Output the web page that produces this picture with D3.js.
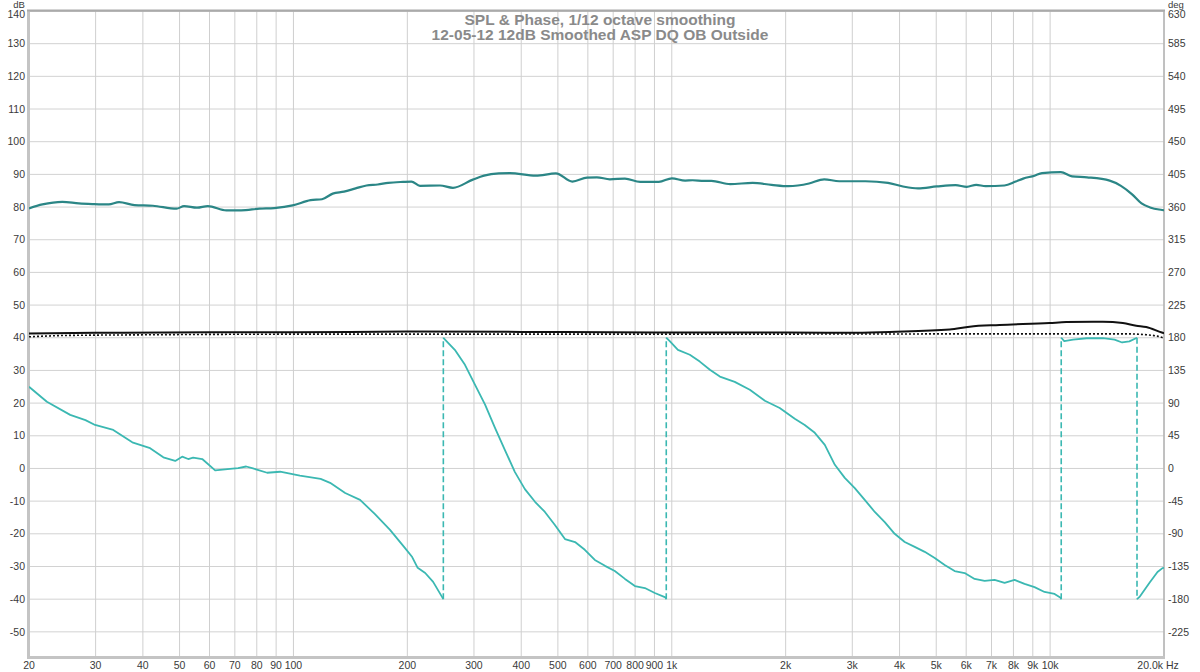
<!DOCTYPE html>
<html><head><meta charset="utf-8">
<script src="https://cdn.jsdelivr.net/npm/d3@7"></script>
<style>
html,body{margin:0;padding:0;background:#fff;}
svg{display:block;font-family:"Liberation Sans",Arial,sans-serif;}
</style></head>
<body>
<svg id="chart" width="1200" height="672"></svg>
<script>
// ---------- data ----------
const titleLines = ["SPL & Phase, 1/12 octave smoothing", "12-05-12 12dB Smoothed ASP DQ OB Outside"];
const dbTicks = [140,130,120,110,100,90,80,70,60,50,40,30,20,10,0,-10,-20,-30,-40,-50];
const degTicks = [630,585,540,495,450,405,360,315,270,225,180,135,90,45,0,-45,-90,-135,-180,-225];
const freqGrid = [20,30,40,50,60,70,80,90,100,200,300,400,500,600,700,800,900,1000,2000,3000,4000,5000,6000,7000,8000,9000,10000,20000];
const freqLabels = ["20","30","40","50","60","70","80","90","100","200","300","400","500","600","700","800","900","1k","2k","3k","4k","5k","6k","7k","8k","9k","10k","20.0k"];

// SPL (dB), [Hz, dB]
const splData = [
 [20,79.6],[21.7,80.8],[24.5,81.6],[27.1,81.1],[29.7,80.9],[32.5,80.8],[34.6,81.5],[38,80.6],[42.5,80.4],
 [49.1,79.5],[51.4,80.3],[55.6,79.8],[59.4,80.3],[66.5,79.0],[72.7,79.0],[81.4,79.5],[89,79.7],[99.5,80.5],
 [111,82.1],[119,82.4],[127,84.1],[136,84.7],[146,85.7],[156,86.6],[167,86.9],[178,87.4],[195,87.7],[205,87.8],
 [216,86.5],[244,86.6],[264,85.9],[298,88.4],[319,89.6],[349,90.3],[373,90.4],[437,89.6],[494,90.3],[546,87.8],
 [597,89.0],[634,89.1],[686,88.5],[752,88.7],[825,87.7],[924,87.7],[1001,88.8],[1085,88.1],[1135,88.2],
 [1216,88.0],[1273,88.0],[1427,87.0],[1636,87.4],[1835,86.8],[2033,86.4],[2306,87.2],[2528,88.5],[2770,87.9],
 [3250,87.9],[3728,87.4],[4084,86.3],[4474,85.7],[5016,86.3],[5624,86.7],[6024,86.2],[6378,86.8],[6754,86.4],
 [7572,86.6],[8110,87.8],[8488,88.7],[9094,89.6],[9518,90.4],[10672,90.7],[11430,89.4],[12524,89.1],
 [14370,88.1],[15390,86.5],[16472,83.9],[17444,81.1],[18472,79.8],[19780,79.1],[20000,79.0]
];

// Phase (deg, right axis), [Hz, deg]; wraps at +/-180
const phaseData = [
 [20,112.5],[22.3,91.8],[25.7,73.8],[28.2,66.6],[29.9,59.9],[33.4,53.1],[37.5,36],[41.8,27.9],[45.3,15.3],
 [48.7,10.4],[50.8,16.2],[52.7,13],[54.3,14.9],[57.4,13],[62.1,-2.7],[68,-0.5],[71.4,0.5],[75,2.7],[78.2,0],
 [85.2,-5.9],[92.2,-4.5],[104,-9.9],[118,-14.4],[125,-19.8],[137,-33.8],[150,-43.2],[164,-62.6],[180,-84.6],
 [197,-109.4],[206,-122],[213,-136.8],[223,-144],[234,-156.2],[247,-176.9],[249,-180],
 [249,180],[267,163.4],[284,142.7],[302,115.2],[321,87.8],[341,55.8],[362,25.7],[385,-5],[409,-28.4],
 [435,-45.9],[462,-59.9],[491,-77.9],[522,-97.2],[555,-101.3],[589,-112],[626,-126],[666,-134.1],[707,-141.3],
 [752,-152.1],[799,-162],[849,-164.7],[902,-171.5],[962,-177.5],[967,-180],
 [967,180],[985,176],[1038,163.4],[1116,156.6],[1186,147.2],[1261,135.9],[1340,126.5],[1467,119.3],[1608,108.5],
 [1762,93.2],[1929,83.3],[2114,68.4],[2246,59.9],[2388,49.1],[2538,32.4],[2698,5],[2866,-13],[3046,-27],
 [3236,-43.2],[3440,-59.9],[3655,-73.8],[3883,-90],[4128,-101.3],[4387,-108],[4662,-114.8],[4955,-123.3],
 [5264,-132.8],[5593,-141.3],[5945,-144],[6317,-152.1],[6713,-154.8],[7133,-153.5],[7581,-157.5],[8055,-153.5],
 [8560,-158.9],[9095,-163.4],[9667,-170.1],[10275,-172.8],[10660,-178.2],[10700,-180],
 [10700,180],[10900,175.5],[11500,177.5],[12500,179.3],[13800,179.5],[14800,177.5],[15500,173.5],[16200,175],[16970,180],
 [16970,-180],[17232,-176.9],[18312,-157.5],[19224,-142.7],[19817,-137.3],[20000,-137]
];

// Black solid and dotted traces (dB)
const blackData = [
 [20,41.3],[30,41.5],[60,41.7],[100,41.7],[200,41.9],[400,41.8],[1000,41.6],[2000,41.6],[2955,41.5],[3768,41.8],
 [5428,42.5],[6128,43.4],[7354,43.9],[9967,44.5],[11032,44.8],[13780,44.9],[15568,44.5],[16892,43.7],[17948,43.3],[19740,41.6],[20000,41.4]
];
const dottedData = [
 [20,40.3],[25,40.7],[40,40.9],[100,41.1],[1000,41.1],[10000,41.2],[16000,41.2],[18000,40.9],[19200,40.5],[20000,39.9]
];

// ---------- layout ----------
const svg = d3.select("#chart");
const L = 29, R = 1164, T = 11, B = 657;
const x = d3.scaleLog().domain([20, 20000]).range([L, R]);
const y = d3.scaleLinear().domain([-57.7, 140]).range([B, T]);
const yPh = d3.scaleLinear().domain([-57.7 * 4.5, 630]).range([B, T]);

// grid
const g = svg.append("g");
g.selectAll("line.hg").data(dbTicks).enter().append("line")
  .attr("x1", L).attr("x2", R).attr("y1", d => y(d)).attr("y2", d => y(d))
  .attr("stroke", "#d2d2d2").attr("stroke-width", 1);
g.selectAll("line.vg").data(freqGrid).enter().append("line")
  .attr("x1", d => x(d)).attr("x2", d => x(d)).attr("y1", T).attr("y2", B)
  .attr("stroke", "#cfcfcf").attr("stroke-width", 1);

// border
svg.append("rect").attr("x", L).attr("y", T).attr("width", R - L).attr("height", B - T)
  .attr("fill", "none").attr("stroke", "#b4b4b4").attr("stroke-width", 1.5);
svg.append("line").attr("x1", L - 0.5).attr("x2", L - 0.5).attr("y1", T - 1).attr("y2", B + 1.5)
  .attr("stroke", "#c4c4c4").attr("stroke-width", 3);
svg.append("line").attr("x1", L - 2).attr("x2", R + 1).attr("y1", B + 0.5).attr("y2", B + 0.5)
  .attr("stroke", "#c4c4c4").attr("stroke-width", 3);
svg.append("line").attr("x1", L - 2).attr("x2", R + 1).attr("y1", T - 0.5).attr("y2", T - 0.5)
  .attr("stroke", "#aaaaaa").attr("stroke-width", 2);

// title
svg.selectAll("text.title").data(titleLines).enter().append("text")
  .attr("x", 600).attr("y", (d, i) => 25 + i * 15)
  .attr("text-anchor", "middle").attr("font-size", 15.5).attr("font-weight", "bold")
  .attr("fill", "#8a8a8a").text(d => d);

// axis labels
const lab = svg.append("g").attr("font-size", 10.5).attr("fill", "#3a3a3a");
lab.selectAll("text.ly").data(dbTicks).enter().append("text")
  .attr("x", 25).attr("y", d => Math.max(y(d), 14.5)).attr("dy", "0.35em").attr("text-anchor", "end").text(d => d);
lab.selectAll("text.ry").data(degTicks).enter().append("text")
  .attr("x", 1168).attr("y", d => Math.max(yPh(d), 14.5)).attr("dy", "0.35em").attr("text-anchor", "start").text(d => d);
lab.selectAll("text.bx").data(freqGrid).enter().append("text")
  .attr("x", (d, i) => i === freqGrid.length - 1 ? x(d) - 1 : x(d))
  .attr("y", 669).attr("text-anchor", (d, i) => i === freqGrid.length - 1 ? "end" : "middle")
  .text((d, i) => freqLabels[i]);
lab.append("text").attr("x", 1166).attr("y", 669).text("Hz");
lab.append("text").attr("x", 19).attr("y", 8).attr("font-size", 9.5).attr("text-anchor", "middle").text("dB");
lab.append("text").attr("x", 1168).attr("y", 8).attr("font-size", 9.5).attr("text-anchor", "start").text("deg");

// clip
svg.append("clipPath").attr("id", "clip").append("rect")
  .attr("x", L).attr("y", T).attr("width", R - L).attr("height", B - T);
const plot = svg.append("g").attr("clip-path", "url(#clip)");

const lineDb = d3.line().x(d => x(d[0])).y(d => y(d[1])).curve(d3.curveMonotoneX);
const linePh = d3.line().x(d => x(d[0])).y(d => yPh(d[1])).curve(d3.curveLinear);

// split phase into segments at wraps
const segs = [];
const wraps = [];
let cur = [phaseData[0]];
for (let i = 1; i < phaseData.length; i++) {
  const p = phaseData[i - 1], q = phaseData[i];
  if (Math.abs(q[1] - p[1]) > 180) {
    segs.push(cur); wraps.push([p, q]); cur = [q];
  } else cur.push(q);
}
segs.push(cur);

plot.selectAll("line.wrap").data(wraps).enter().append("line")
  .attr("x1", d => x(d[0][0])).attr("x2", d => x(d[1][0]))
  .attr("y1", d => yPh(d[0][1])).attr("y2", d => yPh(d[1][1]))
  .attr("stroke", "#3bb8b2").attr("stroke-width", 1.6).attr("stroke-dasharray", "6,3");

plot.selectAll("path.ph").data(segs).enter().append("path")
  .attr("d", linePh).attr("fill", "none").attr("stroke", "#3bb8b2").attr("stroke-width", 1.8)
  .attr("stroke-linejoin", "round");

plot.append("path").datum(dottedData).attr("d", lineDb).attr("fill", "none")
  .attr("stroke", "#111").attr("stroke-width", 1.6).attr("stroke-dasharray", "2,2");
plot.append("path").datum(blackData).attr("d", lineDb).attr("fill", "none")
  .attr("stroke", "#111").attr("stroke-width", 2);

plot.append("path").datum(splData).attr("d", lineDb).attr("fill", "none")
  .attr("stroke", "#2b8686").attr("stroke-width", 2.2).attr("stroke-linejoin", "round");
</script>
</body></html>
